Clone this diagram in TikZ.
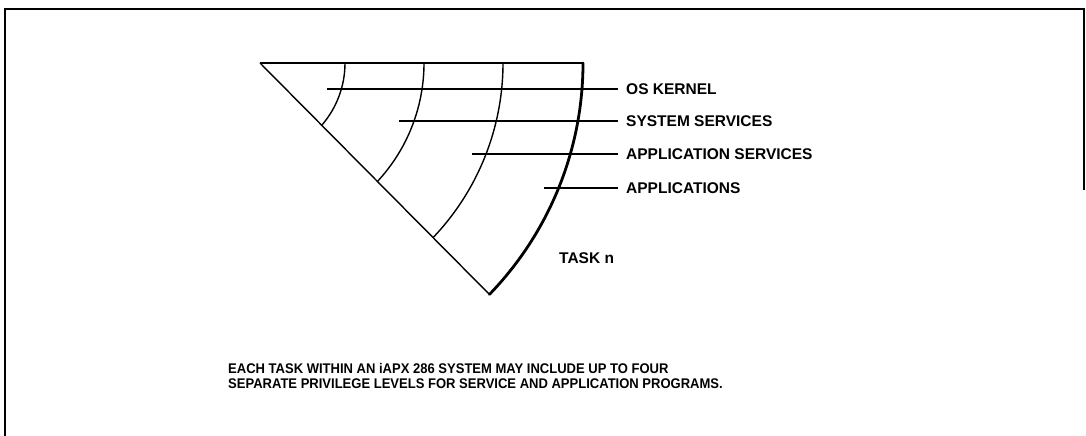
\documentclass[tikz,border=0pt]{standalone}
\usepackage{fontspec}
\setmainfont{Liberation Sans}
\newfontfamily\capfont[FakeStretch=0.93]{Liberation Sans}
\begin{document}
\begin{tikzpicture}[x=1pt,y=1pt,
  thin line/.style={line width=1.4pt},
  thick line/.style={line width=2.8pt},
  frame line/.style={line width=1.8pt},
  lbl/.style={anchor=west,inner xsep=8pt,inner ysep=0pt,font=\fontsize{15.5}{17}\selectfont\bfseries},
  caption/.style={anchor=west,inner sep=0pt,align=left,font=\capfont\fontsize{14}{15}\selectfont\bfseries}]
\useasboundingbox (0,0) rectangle (1086,436);
% frame
\draw[frame line] (5,0) -- (5,427) -- (1084,427) -- (1084,246);
% sector
\coordinate (C) at (250,373);
\coordinate (V) at (260,373);
\coordinate (B) at (489.4,141.6);
\draw[thin line] (V) -- (583,373);
\draw[thin line] (V) -- (B);
\draw[thin line] (345,373) arc[start angle=0,end angle=-40.96,radius=95];
\draw[thin line] (424,373) arc[start angle=0,end angle=-42.91,radius=174];
\draw[thin line] (503,373) arc[start angle=0,end angle=-43.64,radius=253];
\draw[thick line,line cap=round] (583,373) arc[start angle=0,end angle=-44.03,radius=333];
% labels
\node[lbl] (l1) at (618,347) {OS KERNEL};
\node[lbl] (l2) at (618,315) {SYSTEM SERVICES};
\node[lbl] (l3) at (618,282) {APPLICATION SERVICES};
\node[lbl] (l4) at (618,248) {APPLICATIONS};
\coordinate (s1) at (327,347);
\coordinate (s2) at (399,315);
\coordinate (s3) at (472,282);
\coordinate (s4) at (544,248);
\draw[thin line] (s1) -- (l1.west);
\draw[thin line] (s2) -- (l2.west);
\draw[thin line] (s3) -- (l3.west);
\draw[thin line] (s4) -- (l4.west);
\node[lbl,inner xsep=0pt] (task) at (559,178) {TASK n};
\node[caption] (cap) at (228,60) {EACH TASK WITHIN AN iAPX 286 SYSTEM MAY INCLUDE UP TO FOUR\\SEPARATE PRIVILEGE LEVELS FOR SERVICE AND APPLICATION PROGRAMS.};
\end{tikzpicture}
\end{document}
